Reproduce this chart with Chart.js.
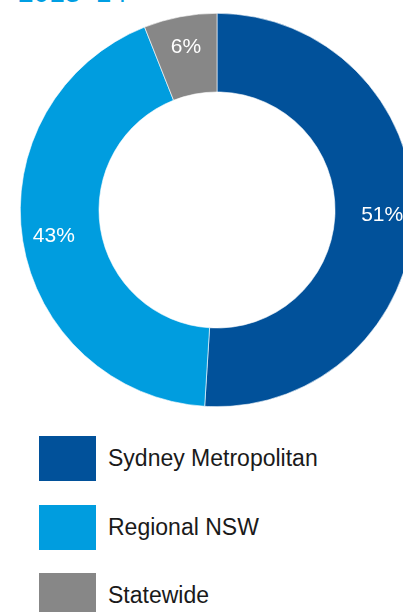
<!DOCTYPE html>
<html>
<head>
<meta charset="utf-8">
<script src="https://cdn.jsdelivr.net/npm/chart.js@4"></script>
<style>
  html, body { margin: 0; padding: 0; background: #fff; }
  body { width: 403px; height: 612px; overflow: hidden; position: relative; font-family: "Liberation Sans", Arial, sans-serif; }
  #title { position: absolute; left: 18px; top: -23px; font-size: 28px; line-height: 32px; color: #009fe3; white-space: nowrap; }
  #wrap { position: absolute; left: 0; top: 13px; width: 434px; height: 394px; }
  #legend { position: absolute; left: 39px; top: 436px; margin: 0; padding: 0; list-style: none; }
  #legend li { display: flex; align-items: center; height: 45px; margin-bottom: 23.5px; }
  #legend .box { width: 57px; height: 45px; margin-right: 12px; }
  #legend .txt { font-size: 23px; color: #1a1a1a; }
</style>
</head>
<body>
<div id="title">2013–14</div>
<div id="wrap"><canvas id="donut"></canvas></div>
<ul id="legend"></ul>
<script>
// regions and their share of funding (%)
const regions = ['Sydney Metropolitan', 'Regional NSW', 'Statewide'];
const shares = [51, 43, 6];
const colours = ['#01519a', '#009ddf', '#878787'];

// writes the percentage inside each ring slice, a little past the middle of the ring
const sliceLabels = {
  id: 'sliceLabels',
  afterDatasetsDraw(chart) {
    const ctx = chart.ctx;
    const meta = chart.getDatasetMeta(0);
    ctx.save();
    ctx.fillStyle = '#fff';
    ctx.font = '21px "Liberation Sans", Arial, sans-serif';
    ctx.textAlign = 'center';
    ctx.textBaseline = 'middle';
    meta.data.forEach((arc, i) => {
      const { x, y, startAngle, endAngle, innerRadius, outerRadius } = arc.getProps(
        ['x', 'y', 'startAngle', 'endAngle', 'innerRadius', 'outerRadius'], true);
      const mid = (startAngle + endAngle) / 2;
      const r = innerRadius + (outerRadius - innerRadius) * 0.6;
      ctx.fillText(shares[i] + '%', x + Math.cos(mid) * r, y + Math.sin(mid) * r);
    });
    ctx.restore();
  }
};

const chart = new Chart(document.getElementById('donut'), {
  type: 'doughnut',
  data: {
    labels: regions,
    datasets: [{
      data: shares,
      backgroundColor: colours,
      borderColor: '#ffffff',
      borderWidth: 0.6
    }]
  },
  options: {
    responsive: true,
    maintainAspectRatio: false,
    animation: false,
    cutout: '60%',
    layout: { padding: 0 },
    plugins: {
      legend: { display: false },
      tooltip: { enabled: false }
    }
  },
  plugins: [sliceLabels]
});

// legend built from the chart's own data
const list = document.getElementById('legend');
chart.data.labels.forEach((name, i) => {
  const li = document.createElement('li');
  const box = document.createElement('span');
  box.className = 'box';
  box.style.background = chart.data.datasets[0].backgroundColor[i];
  const txt = document.createElement('span');
  txt.className = 'txt';
  txt.textContent = name;
  li.appendChild(box);
  li.appendChild(txt);
  list.appendChild(li);
});
</script>
</body>
</html>
